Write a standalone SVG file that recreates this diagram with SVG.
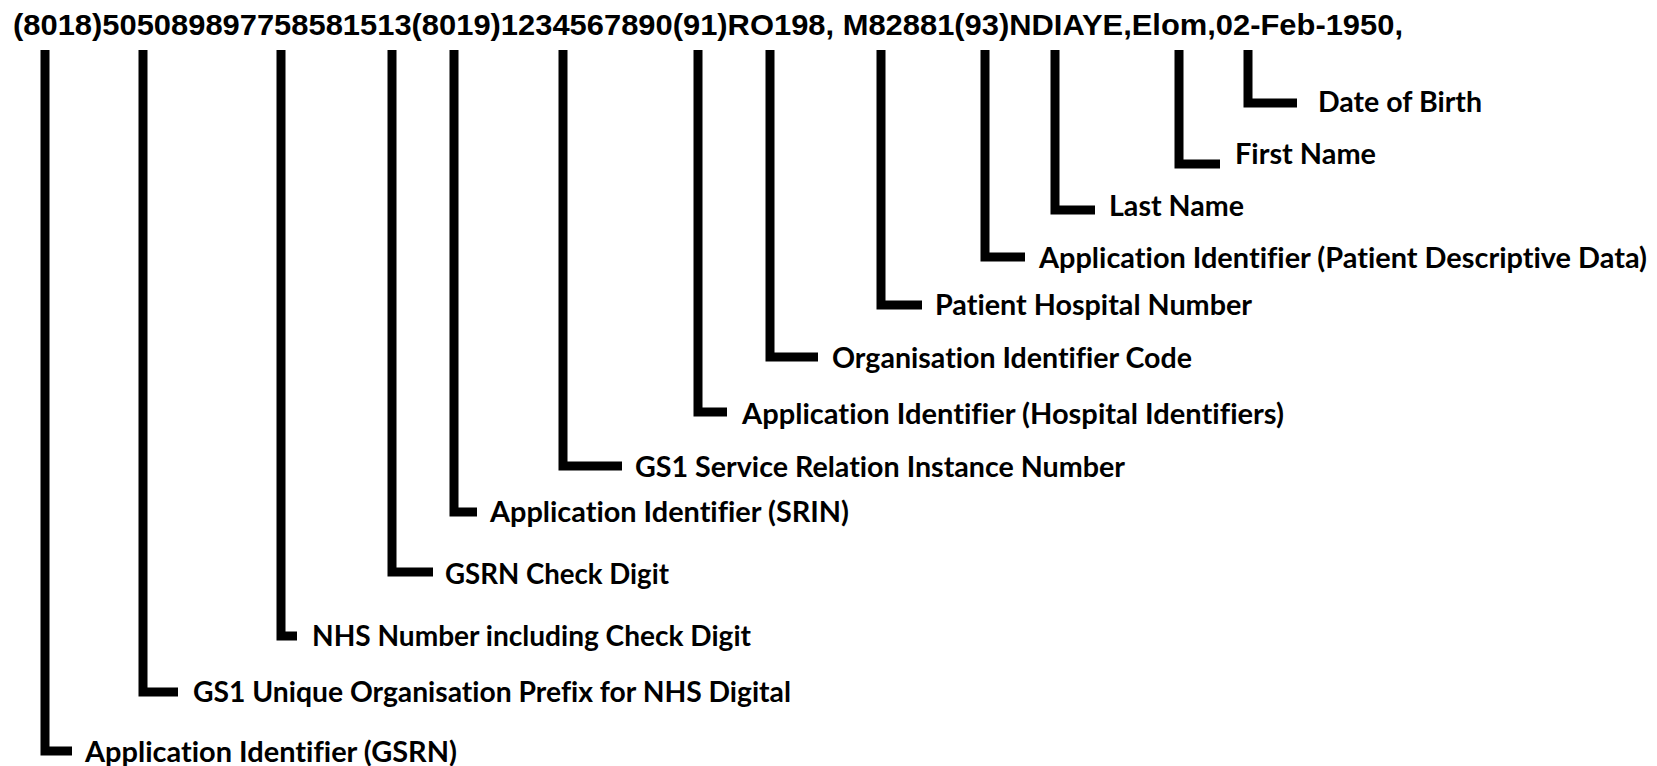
<svg xmlns="http://www.w3.org/2000/svg" width="1657" height="766" viewBox="0 0 1657 766">
<style>
.hdr{font-family:"Liberation Sans",Arial,sans-serif;font-weight:bold;font-size:30px;fill:#000}
.lbl{font-family:Lato,"Liberation Sans",sans-serif;font-weight:bold;font-size:28px;fill:#000;font-variant-ligatures:none}
.con polyline{fill:none;stroke:#000;stroke-width:9;stroke-linejoin:miter;stroke-linecap:butt}
</style>
<rect width="1657" height="766" fill="#fff"/>
<g id="header">
<text class="hdr" x="13" y="35" textLength="1390" lengthAdjust="spacingAndGlyphs">(8018)505089897758581513(8019)1234567890(91)RO198, M82881(93)NDIAYE,Elom,02-Feb-1950,</text>
</g>
<g id="connectors" class="con">
<polyline points="45,50 45,751 72,751"/>
<polyline points="143,50 143,692 178,692"/>
<polyline points="281,50 281,636 297,636"/>
<polyline points="392,50 392,572 433,572"/>
<polyline points="454,50 454,512 477,512"/>
<polyline points="563,50 563,466 622,466"/>
<polyline points="698,50 698,412 727,412"/>
<polyline points="770,50 770,357 818,357"/>
<polyline points="881,50 881,305 922,305"/>
<polyline points="985,50 985,257 1025,257"/>
<polyline points="1055,50 1055,210 1095,210"/>
<polyline points="1179,50 1179,164 1220,164"/>
<polyline points="1248,50 1248,103 1297,103"/>
</g>
<g id="n1"><text class="lbl" x="85" y="762" textLength="372" lengthAdjust="spacingAndGlyphs">Application Identifier (GSRN)</text></g>
<g id="n2"><text class="lbl" x="193" y="702" textLength="598" lengthAdjust="spacingAndGlyphs">GS1 Unique Organisation Prefix for NHS Digital</text></g>
<g id="n3"><text class="lbl" x="312" y="646" textLength="439" lengthAdjust="spacingAndGlyphs">NHS Number including Check Digit</text></g>
<g id="n4"><text class="lbl" x="445" y="584" textLength="224" lengthAdjust="spacingAndGlyphs">GSRN Check Digit</text></g>
<g id="n5"><text class="lbl" x="490" y="522" textLength="359" lengthAdjust="spacingAndGlyphs">Application Identifier (SRIN)</text></g>
<g id="n6"><text class="lbl" x="635" y="477" textLength="490" lengthAdjust="spacingAndGlyphs">GS1 Service Relation Instance Number</text></g>
<g id="n7"><text class="lbl" x="742" y="424" textLength="542" lengthAdjust="spacingAndGlyphs">Application Identifier (Hospital Identifiers)</text></g>
<g id="n8"><text class="lbl" x="832" y="368" textLength="360" lengthAdjust="spacingAndGlyphs">Organisation Identifier Code</text></g>
<g id="n9"><text class="lbl" x="935" y="315" textLength="317" lengthAdjust="spacingAndGlyphs">Patient Hospital Number</text></g>
<g id="n10"><text class="lbl" x="1039" y="268" textLength="608" lengthAdjust="spacingAndGlyphs">Application Identifier (Patient Descriptive Data)</text></g>
<g id="n11"><text class="lbl" x="1109" y="216" textLength="135" lengthAdjust="spacingAndGlyphs">Last Name</text></g>
<g id="n12"><text class="lbl" x="1235" y="164" textLength="141" lengthAdjust="spacingAndGlyphs">First Name</text></g>
<g id="n13"><text class="lbl" x="1318" y="112" textLength="164" lengthAdjust="spacingAndGlyphs">Date of Birth</text></g>
</svg>
